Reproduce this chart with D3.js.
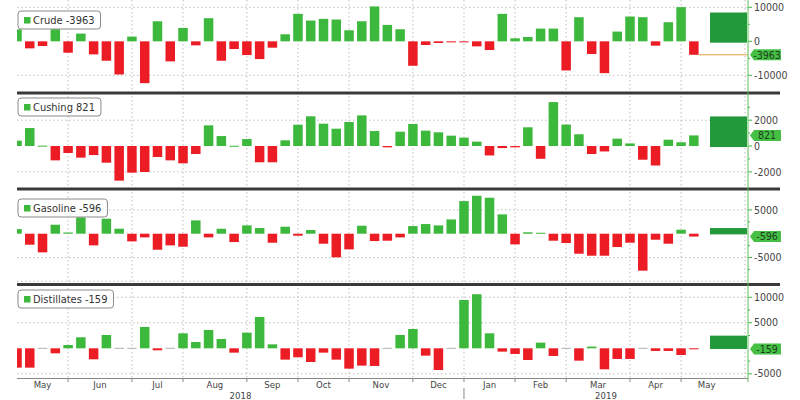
<!DOCTYPE html>
<html><head><meta charset="utf-8">
<script src="https://cdn.jsdelivr.net/npm/d3@7"></script>
<style>
body{margin:0;background:#fff;}
svg{display:block;font-family:"Liberation Sans Narrow","DejaVu Sans Condensed","Arial Narrow",sans-serif;}
</style></head><body>
<svg id="chart" width="800" height="400"></svg>
<script>
// ---- data (weekly changes, thousand barrels), week index 0 = 25 May 2018 ... 53 = 10 May 2019
const crude = [3500,-2070,-1380,3550,-3350,2270,-3840,-5710,-9750,1380,-12300,5900,-5900,3940,-1180,6800,-5710,-2270,-4040,-5220,-1870,2070,8080,6100,6600,6400,3250,5900,10250,4830,3550,-7190,-1080,-490,-300,-100,-1480,-2560,8080,890,1280,3740,3740,-8570,7090,-3740,-9360,2860,7290,7090,-1280,5620,10050,-3963];
const cushing = [413,1390,30,-1110,-540,-900,-700,-1290,-2680,-2060,-2010,-850,-1110,-1340,-620,1600,770,20,540,-1260,-1260,440,1650,2300,1730,1340,1860,2370,1160,-100,1110,1710,1190,1060,800,650,340,-730,-160,-100,1450,-990,3400,1660,910,-620,-420,570,200,-1060,-1510,490,290,821];
const gasoline = [980,-2310,-3920,1890,250,3430,-2450,3150,1050,-1610,-770,-3360,-2450,-2730,2800,-770,1050,-1750,1750,1190,-1890,1470,-420,770,-2100,-4960,-3290,1680,-1540,-1470,-770,1610,2030,1750,3000,6850,7970,7550,4060,-2240,300,200,-1470,-1960,-4200,-4620,-4620,-2800,-1890,-7760,-1260,-2100,840,-596];
const distillates = [-3790,-3790,0,-980,650,2160,-2160,2610,0,0,4180,-390,0,2940,1240,3590,1830,-850,3070,6140,780,-2220,-1760,-2680,-850,-2220,-3990,-3400,-3460,0,2610,3790,-1440,-4250,0,9480,10590,2940,-650,-1110,-2290,1110,-1500,0,-2420,330,-4120,-2090,-2090,0,-520,-520,-1310,-159];
const seriesNames = ["Crude","Cushing","Gasoline","Distillates"];
const lastValues = [-3963, 821, -596, -159];
const blockLow = [-400, -80, -140, -130];
const blockHigh = [8470, 2290, 1190, 2480];
const axisTicks = [[10000,0,-10000],[2000,0,-2000],[5000,-5000],[10000,5000,-5000]];
const gridValues = [[10000,-10000],[2000,-2000],[5000,-5000,-10000],[10000,5000,-5000]];
const minorTicks = [[5000,-5000],[1000,-1000,3000],[2500,-2500,-7500],[7500,2500,-2500]];
const monthLabels = ["May","Jun","Jul","Aug","Sep","Oct","Nov","Dec","Jan","Feb","Mar","Apr","May"];
const monthStarts = [0,4,9,13,18,22,26,31,35,39,43,48,52,56];
const yearLabels = ["2018","2019"];
const yearStarts = [0,35];

// ---- layout
const W=800,H=400, L=17, R=748;
const panels = [
  {vals:crude, top:0, bot:92, dom:[-14900,12150]},
  {vals:cushing, top:95, bot:188, dom:[-3250,3950]},
  {vals:gasoline, top:191, bot:283, dom:[-10350,8970]},
  {vals:distillates, top:286, bot:378, dom:[-5820,12210]}
];
const GREEN="#3cb83c", RED="#ec1c24", DARK="#22993a";
const svg=d3.select("#chart");
const x=d3.scaleLinear().domain([0,57.24]).range([L,R]);
const bw=9.5;

svg.append("clipPath").attr("id","clip").append("rect")
  .attr("x",L).attr("y",0).attr("width",R-L).attr("height",380);

// vertical month grid
const g0=svg.append("g");
g0.selectAll("line.vg").data(monthStarts.slice(1,-1)).join("line")
  .attr("x1",d=>x(d)).attr("x2",d=>x(d)).attr("y1",0).attr("y2",378)
  .attr("stroke","#bdbdbd").attr("stroke-width",1).attr("stroke-dasharray","1.5,2.5");
g0.append("line").attr("x1",745).attr("x2",745).attr("y1",0).attr("y2",378)
  .attr("stroke","#bdbdbd").attr("stroke-dasharray","1.5,2.5");

panels.forEach((p,k)=>{
  const y=d3.scaleLinear().domain(p.dom).range([p.bot,p.top]);
  const g=svg.append("g");
  // horizontal grid
  g.selectAll("line.hg").data(gridValues[k]).join("line")
    .attr("x1",L).attr("x2",R).attr("y1",d=>y(d)).attr("y2",d=>y(d))
    .attr("stroke","#bdbdbd").attr("stroke-dasharray","1.5,2.5");
  // bars
  const gb=g.append("g").attr("clip-path","url(#clip)");
  gb.selectAll("rect").data(p.vals).join("rect")
    .attr("x",(d,i)=>x(i)-bw/2).attr("width",bw)
    .attr("y",d=>d===0?y(0)-0.5:Math.min(y(d),y(0)))
    .attr("height",d=>d===0?1:Math.max(1,Math.abs(y(d)-y(0))))
    .attr("fill",d=>d>0?GREEN:(d<0?RED:"#b0b0b0"));
  // right block
  g.append("rect").attr("x",710).attr("width",37)
    .attr("y",y(blockHigh[k])).attr("height",y(blockLow[k])-y(blockHigh[k]))
    .attr("fill",DARK);
  // last value line (crude)
  if(k===0){
    g.append("line").attr("x1",x(53)+bw/2).attr("x2",R).attr("y1",y(lastValues[k])).attr("y2",y(lastValues[k]))
      .attr("stroke","#e8a040").attr("stroke-width",1);
  }
  // right axis ticks
  g.selectAll("line.mt").data(minorTicks[k]).join("line")
    .attr("x1",R).attr("x2",R+2).attr("y1",d=>y(d)).attr("y2",d=>y(d)).attr("stroke","#3cb83c");
  g.selectAll("line.tk").data(axisTicks[k]).join("line")
    .attr("x1",R).attr("x2",R+4).attr("y1",d=>y(d)).attr("y2",d=>y(d)).attr("stroke","#3cb83c");
  g.selectAll("text.tl").data(axisTicks[k]).join("text")
    .attr("x",R+6).attr("y",d=>y(d)).attr("dy","0.35em")
    .attr("font-size",10.5).attr("fill","#444").text(d=>d);
  // value label
  const yc=y(lastValues[k]);
  g.append("path").attr("d",`M${R+2},${yc} L${R+6},${yc-5.5} L${R+33},${yc-5.5} L${R+33},${yc+5.5} L${R+6},${yc+5.5} Z`)
    .attr("fill","#45c045");
  g.append("text").attr("x",R+19).attr("y",yc).attr("dy","0.36em").attr("text-anchor","middle")
    .attr("font-size",10.5).attr("fill","#1d3d1d").text(lastValues[k]);
  // legend
  const lg=g.append("g").attr("transform",`translate(18,${p.top+(k===0?11:(k===1?3:(k===2?8:4)))})`);
  const label=seriesNames[k]+"  "+lastValues[k];
  const t=lg.append("text").attr("x",15).attr("y",9).attr("dy","0.35em")
    .attr("font-size",11).attr("fill","#333").text(label);
  const tw=t.node().getComputedTextLength();
  lg.insert("rect","text").attr("x",0).attr("y",0).attr("width",tw+21).attr("height",18).attr("rx",3)
    .attr("fill","#fff").attr("stroke","#8a8a8a").attr("stroke-width",1);
  lg.append("rect").attr("x",6).attr("y",6).attr("width",6.5).attr("height",6.5).attr("fill",GREEN);
});

// separators
svg.selectAll("rect.sep").data([93,189,284.5]).join("rect")
  .attr("x",L).attr("width",780-L).attr("y",d=>d-1.5).attr("height",3).attr("fill","#3a3a3a");

// right axis line
svg.append("line").attr("x1",R).attr("x2",R).attr("y1",0).attr("y2",382)
  .attr("stroke","#5cbf5c").attr("stroke-width",1);

// bottom axis
svg.append("line").attr("x1",L).attr("x2",R).attr("y1",378.5).attr("y2",378.5).attr("stroke","#888");
svg.selectAll("line.bt").data(monthStarts.slice(1,-1)).join("line")
  .attr("x1",d=>x(d)).attr("x2",d=>x(d)).attr("y1",378.5).attr("y2",382).attr("stroke","#888");
svg.selectAll("text.ml").data(monthLabels).join("text")
  .attr("x",(d,i)=>(x(monthStarts[i])+x(monthStarts[i+1]))/2).attr("y",384.5).attr("dy","0.35em")
  .attr("text-anchor","middle").attr("font-size",9.5).attr("fill","#444").text(d=>d);
svg.selectAll("text.yl").data(yearLabels).join("text")
  .attr("x",(d,i)=>i===0?(L+x(yearStarts[1]))/2:(x(yearStarts[1])+R)/2).attr("y",395.5).attr("dy","0.35em")
  .attr("text-anchor","middle").attr("font-size",9.5).attr("fill","#444").text(d=>d);
svg.append("line").attr("x1",x(yearStarts[1])).attr("x2",x(yearStarts[1])).attr("y1",388).attr("y2",399)
  .attr("stroke","#888");
</script></body></html>
